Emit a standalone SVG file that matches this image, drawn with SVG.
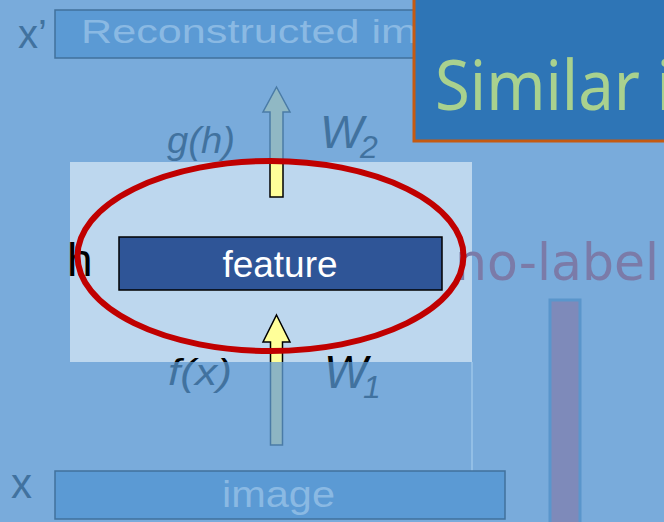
<svg xmlns="http://www.w3.org/2000/svg" width="664" height="522" viewBox="0 0 664 522">
  <defs>
    <style>
      .sans { font-family: "Liberation Sans", Arial, sans-serif; }
      .ital { font-family: "Liberation Sans", Arial, sans-serif; font-style: italic; }
      .dim-box { fill: #5b9ad4; stroke: #41719c; stroke-width: 1.5; }
      .dim-text { fill: #8ab9e3; }
      .var { fill: #41729f; }
      .arrow { fill: url(#arrowFill); stroke: url(#arrowStroke); stroke-width: 1.5; stroke-linejoin: miter; }
    </style>
    <!-- Colours change inside the highlighted band (y 162..362) -->
    <linearGradient id="arrowFill" gradientUnits="userSpaceOnUse" x1="0" y1="0" x2="0" y2="522">
      <stop offset="0" stop-color="#90b8c4"/>
      <stop offset="0.3103" stop-color="#90b8c4"/>
      <stop offset="0.3103" stop-color="#ffff99"/>
      <stop offset="0.6935" stop-color="#ffff99"/>
      <stop offset="0.6935" stop-color="#8db5c3"/>
      <stop offset="1" stop-color="#8db5c3"/>
    </linearGradient>
    <linearGradient id="arrowStroke" gradientUnits="userSpaceOnUse" x1="0" y1="0" x2="0" y2="522">
      <stop offset="0" stop-color="#4a7ba6"/>
      <stop offset="0.3103" stop-color="#4a7ba6"/>
      <stop offset="0.3103" stop-color="#000000"/>
      <stop offset="0.6935" stop-color="#000000"/>
      <stop offset="0.6935" stop-color="#4a7ba6"/>
      <stop offset="1" stop-color="#4a7ba6"/>
    </linearGradient>
    <linearGradient id="labelFill" gradientUnits="userSpaceOnUse" x1="0" y1="0" x2="0" y2="522">
      <stop offset="0" stop-color="#41729f"/>
      <stop offset="0.3103" stop-color="#41729f"/>
      <stop offset="0.3103" stop-color="#000000"/>
      <stop offset="0.6935" stop-color="#000000"/>
      <stop offset="0.6935" stop-color="#41729f"/>
      <stop offset="1" stop-color="#41729f"/>
    </linearGradient>
  </defs>

  <!-- background -->
  <rect x="0" y="0" width="664" height="522" fill="#79abdb"/>

  <!-- highlighted band around the hidden layer -->
  <g id="spotlight">
    <rect x="70" y="162" width="402" height="200" fill="#bdd7ee"/>
    <line x1="472" y1="362" x2="472" y2="471" stroke="#93bfe6" stroke-width="2"/>
  </g>

  <!-- output layer -->
  <g id="reconstructed">
    <rect class="dim-box" x="55" y="10" width="400" height="48"/>
    <text class="sans dim-text" x="81" y="43" font-size="33" textLength="336" lengthAdjust="spacingAndGlyphs">Reconstructed im</text>
    <text class="sans var" x="18" y="48" font-size="40">x’</text>
  </g>

  <!-- input layer -->
  <g id="image">
    <rect class="dim-box" x="55" y="471" width="450" height="48"/>
    <text class="sans dim-text" x="222" y="507" font-size="37" textLength="113" lengthAdjust="spacingAndGlyphs">image</text>
    <text class="sans var" x="11" y="498" font-size="42">x</text>
  </g>

  <!-- encoder / decoder arrows -->
  <g id="connectors">
    <path class="arrow" d="M276.5,87 L290,112 L283,112 L283,197 L270,197 L270,112 L263,112 Z"/>
    <path class="arrow" d="M276.5,315 L290,342 L282.5,342 L282.5,445 L270.5,445 L270.5,342 L263,342 Z"/>
    <text class="ital" fill="url(#labelFill)" x="167" y="153" font-size="36" textLength="68" lengthAdjust="spacingAndGlyphs">g(h)</text>
    <text class="ital" fill="url(#labelFill)" x="320" y="148" font-size="46">W<tspan x="360" y="158" font-size="32">2</tspan></text>
    <text class="ital" fill="url(#labelFill)" x="168" y="385" font-size="36" textLength="64" lengthAdjust="spacingAndGlyphs">f(x)</text>
    <text class="ital" fill="url(#labelFill)" x="324" y="388" font-size="46">W<tspan x="363" y="398" font-size="32">1</tspan></text>
  </g>

  <!-- hidden layer -->
  <g id="feature">
    <rect x="119" y="237" width="323" height="53" fill="#2f5597" stroke="#000000" stroke-width="1.5"/>
    <text class="sans" x="280" y="277" font-size="37" fill="#ffffff" text-anchor="middle">feature</text>
    <text class="sans" x="67" y="276" font-size="46" fill="#000000">h</text>
  </g>

  <g id="no-label">
    <text x="455" y="280" font-family="'DejaVu Sans', sans-serif" font-size="52" fill="#7b7ba8" textLength="204" lengthAdjust="spacingAndGlyphs">no-label</text>
    <rect x="550" y="300" width="30" height="226" fill="#7e8aba" stroke="#5a96cc" stroke-width="3"/>
  </g>

  <g id="highlight">
    <ellipse cx="270.5" cy="256" rx="193" ry="95" fill="none" stroke="#c00000" stroke-width="6"/>
  </g>

  <g id="similar">
    <rect x="414" y="-4" width="260" height="145" fill="#2e75b6" stroke="#c55a11" stroke-width="3"/>
    <text font-family="'Noto Sans', 'Open Sans', sans-serif" font-size="70" fill="#a9d18e" y="110"><tspan x="435" textLength="205" lengthAdjust="spacingAndGlyphs">Similar</tspan><tspan x="656">i</tspan></text>
  </g>
</svg>
